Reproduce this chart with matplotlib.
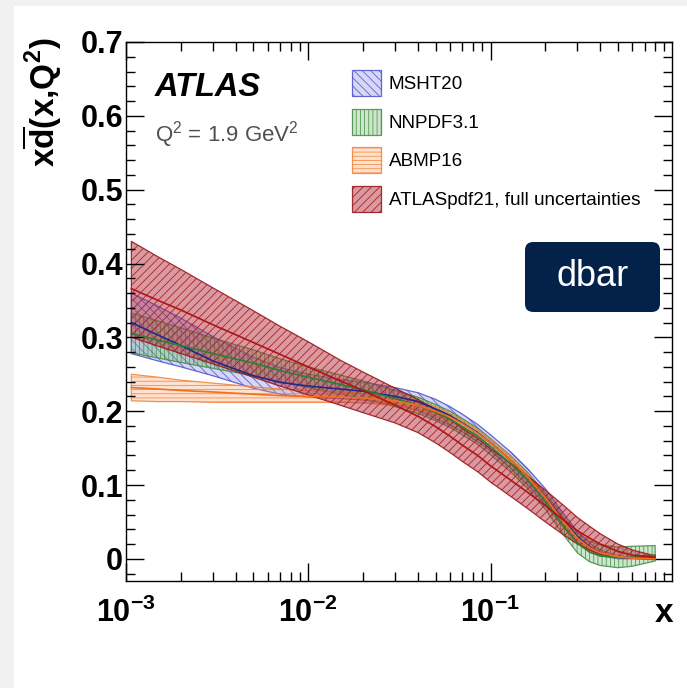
import numpy as np
import matplotlib
matplotlib.use("Agg")
import matplotlib.pyplot as plt
from matplotlib.patches import Rectangle, FancyBboxPatch, Patch
from matplotlib.ticker import MultipleLocator, FuncFormatter, LogLocator

plt.rcParams['font.family'] = ['Liberation Sans', 'DejaVu Sans']
plt.rcParams['mathtext.fontset'] = 'custom'
plt.rcParams['mathtext.rm'] = 'Liberation Sans'
plt.rcParams['mathtext.it'] = 'Liberation Sans:italic'
plt.rcParams['mathtext.bf'] = 'Liberation Sans:bold'
plt.rcParams['hatch.linewidth'] = 0.6

# x grid
x = [0.00107, 0.0015, 0.002, 0.003, 0.005, 0.007, 0.01, 0.015, 0.02, 0.03, 0.04,
     0.05, 0.06, 0.07, 0.085, 0.1, 0.13, 0.16, 0.2, 0.25, 0.3, 0.35, 0.4, 0.5, 0.6, 0.8]

mstw_c = [0.320, 0.303, 0.289, 0.268, 0.248, 0.239, 0.234, 0.230, 0.227, 0.220, 0.213,
          0.203, 0.194, 0.184, 0.171, 0.157, 0.133, 0.111, 0.084, 0.053, 0.030, 0.016,
          0.008, 0.002, 0.001, 0.000]
mstw_hi = [0.360, 0.342, 0.326, 0.301, 0.273, 0.259, 0.250, 0.243, 0.239, 0.232, 0.225,
           0.216, 0.206, 0.196, 0.182, 0.168, 0.144, 0.122, 0.095, 0.062, 0.037, 0.021,
           0.012, 0.004, 0.002, 0.001]
mstw_lo = [0.278, 0.268, 0.260, 0.248, 0.231, 0.223, 0.219, 0.217, 0.215, 0.209, 0.201,
           0.190, 0.181, 0.172, 0.159, 0.146, 0.122, 0.100, 0.073, 0.044, 0.023, 0.011,
           0.004, 0.000, 0.000, -0.001]

nnpdf_c = [0.305, 0.296, 0.289, 0.278, 0.265, 0.255, 0.246, 0.236, 0.229, 0.217, 0.208,
           0.198, 0.189, 0.179, 0.166, 0.152, 0.128, 0.106, 0.078, 0.045, 0.021, 0.009,
           0.004, 0.002, 0.002, 0.005]
nnpdf_hi = [0.333, 0.322, 0.313, 0.299, 0.283, 0.271, 0.260, 0.249, 0.241, 0.228, 0.219,
            0.209, 0.200, 0.190, 0.177, 0.163, 0.139, 0.117, 0.089, 0.057, 0.035, 0.024,
            0.019, 0.016, 0.017, 0.018]
nnpdf_lo = [0.279, 0.272, 0.266, 0.258, 0.248, 0.240, 0.232, 0.223, 0.217, 0.206, 0.197,
            0.187, 0.178, 0.168, 0.155, 0.141, 0.117, 0.095, 0.067, 0.033, 0.008, -0.004,
            -0.009, -0.012, -0.010, -0.003]

abmp_c = [0.232, 0.230, 0.228, 0.226, 0.223, 0.221, 0.220, 0.219, 0.218, 0.214, 0.208,
          0.200, 0.192, 0.183, 0.170, 0.157, 0.133, 0.111, 0.083, 0.051, 0.028, 0.015,
          0.008, 0.003, 0.001, 0.000]
abmp_hi = [0.250, 0.246, 0.242, 0.238, 0.233, 0.230, 0.228, 0.226, 0.224, 0.220, 0.214,
           0.206, 0.197, 0.188, 0.175, 0.162, 0.138, 0.115, 0.087, 0.055, 0.031, 0.018,
           0.010, 0.004, 0.002, 0.001]
abmp_lo = [0.214, 0.213, 0.213, 0.212, 0.212, 0.212, 0.212, 0.212, 0.211, 0.208, 0.202,
           0.194, 0.187, 0.178, 0.165, 0.152, 0.128, 0.107, 0.079, 0.047, 0.025, 0.012,
           0.006, 0.002, 0.000, -0.001]

atlas_c = [0.366, 0.350, 0.337, 0.317, 0.293, 0.277, 0.260, 0.241, 0.228, 0.208, 0.193,
           0.179, 0.166, 0.154, 0.140, 0.126, 0.106, 0.090, 0.072, 0.053, 0.038, 0.028,
           0.020, 0.010, 0.005, 0.002]
atlas_hi = [0.430, 0.409, 0.392, 0.367, 0.336, 0.315, 0.294, 0.269, 0.253, 0.231, 0.216,
            0.202, 0.189, 0.177, 0.163, 0.149, 0.129, 0.112, 0.093, 0.073, 0.056, 0.044,
            0.034, 0.020, 0.012, 0.004]
atlas_lo = [0.300, 0.288, 0.278, 0.264, 0.246, 0.234, 0.222, 0.208, 0.198, 0.184, 0.171,
            0.157, 0.144, 0.132, 0.118, 0.104, 0.084, 0.068, 0.050, 0.033, 0.020, 0.012,
            0.006, 0.002, 0.001, 0.000]

labels = ['MSHT20', 'NNPDF3.1', 'ABMP16', 'ATLASpdf21, full uncertainties']

# (fill, edge/hatch, central line, hatch)
styles = [
    ((0.55, 0.55, 0.92, 0.35), (0.30, 0.30, 0.80, 0.85), '#1f2a8a', '\\\\\\\\'),
    ((0.45, 0.72, 0.45, 0.35), (0.25, 0.55, 0.25, 0.85), '#2e7d32', '||||'),
    ((1.00, 0.62, 0.38, 0.30), (0.95, 0.50, 0.20, 0.85), '#f07020', '----'),
    ((0.72, 0.20, 0.25, 0.50), (0.60, 0.10, 0.12, 0.90), '#b01515', '////'),
]
series = [(mstw_lo, mstw_c, mstw_hi), (nnpdf_lo, nnpdf_c, nnpdf_hi),
          (abmp_lo, abmp_c, abmp_hi), (atlas_lo, atlas_c, atlas_hi)]

fig = plt.figure(figsize=(6.87, 6.88), dpi=100, facecolor='#f1f1f1')
fig.add_artist(Rectangle((14 / 687, 0), 1, 1 - 6 / 688, transform=fig.transFigure,
                         facecolor='white', edgecolor='none', zorder=-10))

ax = fig.add_axes([126 / 687, 1 - 581 / 688, 546 / 687, 539 / 688])

handles = []
for (lo, c, hi), (fc, ec, lc, hatch), lab in zip(series, styles, labels):
    ax.fill_between(x, lo, hi, facecolor=fc, edgecolor=ec, hatch=hatch, linewidth=0.9)
    ax.plot(x, c, color=lc, lw=1.2)
    handles.append(Patch(facecolor=fc, edgecolor=ec, hatch=hatch, linewidth=0.9, label=lab))

ax.set_xscale('log')
ax.set_xlim(1e-3, 0.99)
ax.set_ylim(-0.03, 0.7)

ax.yaxis.set_major_locator(MultipleLocator(0.1))
ax.yaxis.set_minor_locator(MultipleLocator(0.02))
ax.yaxis.set_major_formatter(FuncFormatter(lambda v, p: '0' if abs(v) < 1e-9 else f'{v:.1f}'))
ax.xaxis.set_major_locator(LogLocator(base=10, numticks=10))
ax.xaxis.set_minor_locator(LogLocator(base=10, subs=np.arange(2, 10), numticks=20))
ax.xaxis.set_major_formatter(FuncFormatter(lambda v, p: r'$\mathbf{10^{%d}}$' % round(np.log10(v))))
ax.xaxis.set_minor_formatter(FuncFormatter(lambda v, p: ''))

ax.tick_params(which='both', direction='in', top=True, right=True, width=1.0)
ax.tick_params(which='major', length=13)
ax.tick_params(which='minor', length=6.5)
ax.tick_params(axis='y', labelsize=22, pad=2)
ax.tick_params(axis='x', labelsize=22, pad=12)
for lab in ax.get_yticklabels():
    lab.set_fontweight('bold')
for sp in ax.spines.values():
    sp.set_linewidth(1.0)

fig.text(42 / 687, 1 - 38 / 688, r'$\mathbf{x\overline{d}(x{,}Q^{2})}$', rotation=90,
         ha='center', va='top', fontsize=24)
fig.text(664 / 687, 1 - 613 / 688, 'x', ha='center', va='center', fontsize=24,
         fontweight='bold')

fig.text(155 / 687, 1 - 96 / 688, 'ATLAS', fontsize=23.5, fontweight='bold',
         fontstyle='italic', ha='left', va='baseline')
fig.text(155 / 687, 1 - 141 / 688, r'Q$^{2}$ = 1.9 GeV$^{2}$', fontsize=16,
         color='#505050', ha='left', va='baseline')

ax.legend(handles=handles, loc='upper left', bbox_to_anchor=(352 / 687, 1 - 70 / 688),
          bbox_transform=fig.transFigure, frameon=False, fontsize=13.6,
          handlelength=1.53, handleheight=1.73, labelspacing=0.68,
          handletextpad=0.42, borderpad=0, borderaxespad=0)

box = FancyBboxPatch((525 / 687, 1 - 312 / 688), 135 / 687, 70 / 688,
                     boxstyle='round,pad=0,rounding_size=0.012',
                     transform=fig.transFigure, facecolor='#04214a', edgecolor='none',
                     zorder=5)
fig.add_artist(box)
fig.text(592.5 / 687, 1 - 277 / 688, 'dbar', color='white', fontsize=26,
         ha='center', va='center', zorder=6)

fig.savefig('out.png', dpi=100, facecolor=fig.get_facecolor())
